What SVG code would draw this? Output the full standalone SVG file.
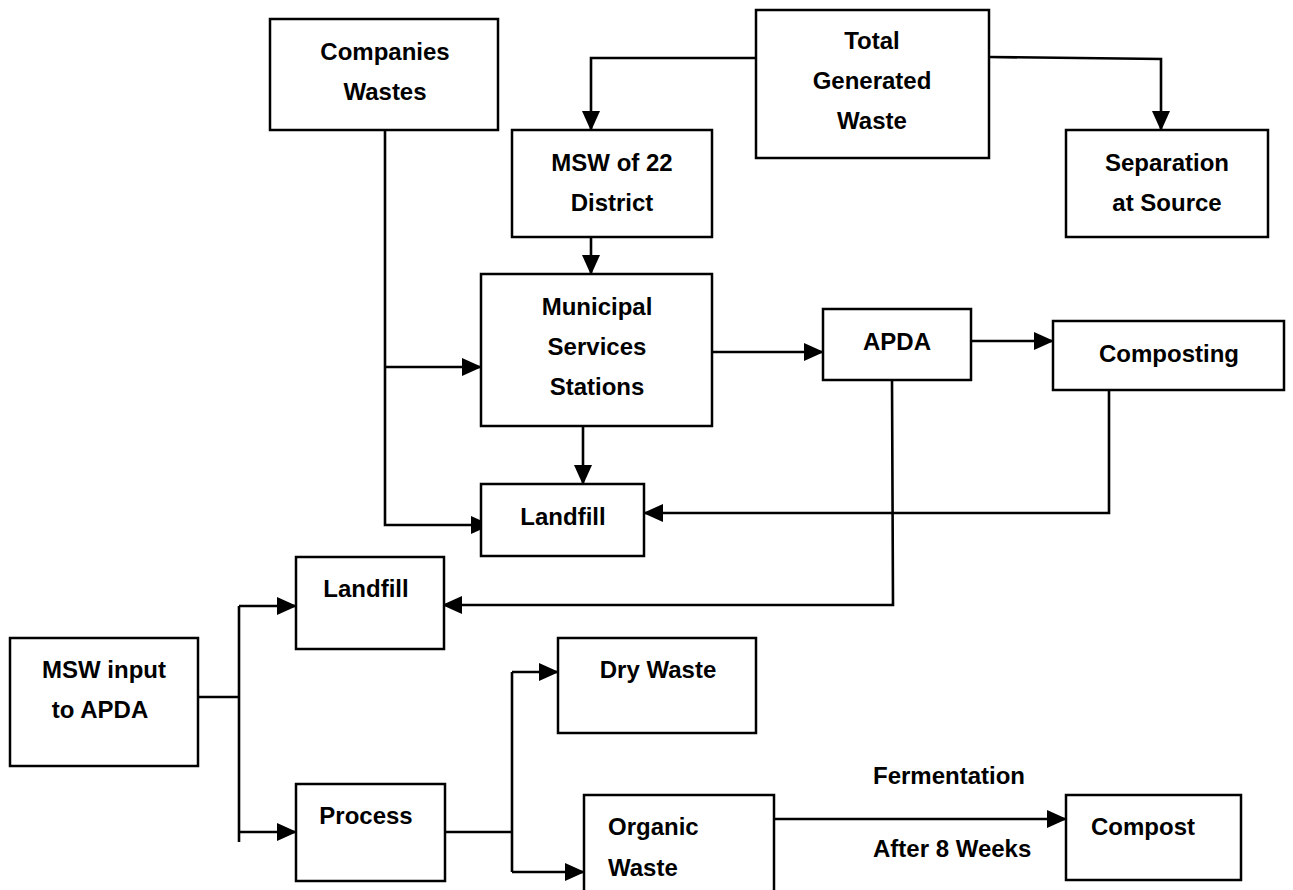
<svg xmlns="http://www.w3.org/2000/svg" width="1293" height="890" viewBox="0 0 1293 890">
<style>
.box{fill:#fff;stroke:#000;stroke-width:2.5}
.t{font-family:"Liberation Sans",Arial,sans-serif;font-weight:bold;font-size:24px;fill:#000;text-anchor:middle}
.l{text-anchor:start}
.c{fill:none;stroke:#000;stroke-width:2.6}
.a{marker-end:url(#ah)}
</style>
<defs>
<marker id="ah" markerUnits="userSpaceOnUse" markerWidth="20" markerHeight="18" refX="19" refY="9" orient="auto">
<path d="M0,0 L20,9 L0,18 z" fill="#000"/>
</marker>
</defs>
<rect width="1293" height="890" fill="#fff"/>
<g id="connectors">
<path class="c a" d="M756,58 H591 V130"/>
<path class="c a" d="M989,57 L1161,59 V130"/>
<path class="c a" d="M591,237 V274"/>
<path class="c a" d="M385,130 V525 H490"/>
<path class="c a" d="M385,367 H481"/>
<path class="c a" d="M583,426 V484"/>
<path class="c a" d="M712,352 H823"/>
<path class="c a" d="M971,341 H1053"/>
<path class="c a" d="M1109,390 V513 H644"/>
<path class="c a" d="M892,380 L893,605 H443"/>
<path class="c" d="M197,697 H239"/>
<path class="c" d="M239,606 V842"/>
<path class="c a" d="M239,606 H296"/>
<path class="c a" d="M239,832 H296"/>
<path class="c" d="M445,832 H512"/>
<path class="c" d="M512,672 V872"/>
<path class="c a" d="M512,672 H558"/>
<path class="c a" d="M512,872 H584"/>
<path class="c a" d="M775,819 H1066"/>
</g>
<g id="companies">
<rect class="box" x="270" y="19" width="228" height="111"/>
<text class="t" x="385" y="60">Companies</text>
<text class="t" x="385" y="100">Wastes</text>
</g>
<g id="total">
<rect class="box" x="756" y="10" width="233" height="148"/>
<text class="t" x="872" y="49">Total</text>
<text class="t" x="872" y="89">Generated</text>
<text class="t" x="872" y="129">Waste</text>
</g>
<g id="msw22">
<rect class="box" x="512" y="130" width="200" height="107"/>
<text class="t" x="612" y="171">MSW of 22</text>
<text class="t" x="612" y="211">District</text>
</g>
<g id="separation">
<rect class="box" x="1066" y="130" width="202" height="107"/>
<text class="t" x="1167" y="171">Separation</text>
<text class="t" x="1167" y="211">at Source</text>
</g>
<g id="municipal">
<rect class="box" x="481" y="274" width="231" height="152"/>
<text class="t" x="597" y="315">Municipal</text>
<text class="t" x="597" y="355">Services</text>
<text class="t" x="597" y="395">Stations</text>
</g>
<g id="apda">
<rect class="box" x="823" y="309" width="148" height="71"/>
<text class="t" x="897" y="350">APDA</text>
</g>
<g id="composting">
<rect class="box" x="1053" y="321" width="231" height="69"/>
<text class="t" x="1169" y="362">Composting</text>
</g>
<g id="landfill1">
<rect class="box" x="481" y="484" width="163" height="72"/>
<text class="t" x="563" y="525">Landfill</text>
</g>
<g id="landfill2">
<rect class="box" x="296" y="557" width="148" height="92"/>
<text class="t" x="366" y="597">Landfill</text>
</g>
<g id="mswinput">
<rect class="box" x="10" y="638" width="188" height="128"/>
<text class="t" x="104" y="678">MSW input</text>
<text class="t" x="100" y="718">to APDA</text>
</g>
<g id="process">
<rect class="box" x="296" y="784" width="149" height="97"/>
<text class="t" x="366" y="824">Process</text>
</g>
<g id="drywaste">
<rect class="box" x="558" y="638" width="198" height="95"/>
<text class="t" x="658" y="678">Dry Waste</text>
</g>
<g id="organic">
<rect class="box" x="584" y="795" width="190" height="100"/>
<text class="t l" x="608" y="835">Organic</text>
<text class="t l" x="608" y="876">Waste</text>
</g>
<g id="compost">
<rect class="box" x="1066" y="795" width="175" height="85"/>
<text class="t" x="1143" y="835">Compost</text>
</g>
<g id="labels">
<text class="t l" x="873" y="784">Fermentation</text>
<text class="t l" x="873" y="857">After 8 Weeks</text>
</g>
</svg>
